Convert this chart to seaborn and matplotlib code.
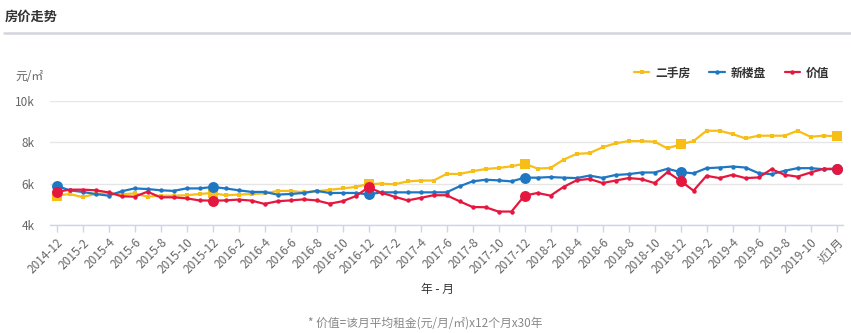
import matplotlib
matplotlib.use("Agg")
import matplotlib.pyplot as plt
import seaborn as sns
import pandas as pd
import numpy as np

# ---------------- data ----------------
months = [f"{y}-{m}" for y, m in [(2014, 12)] + [(y, m) for y in range(2015, 2020) for m in range(1, 13)]][:60] + ["近1月"]
tick_labels = ["2014-12", "2015-2", "2015-4", "2015-6", "2015-8", "2015-10", "2015-12",
               "2016-2", "2016-4", "2016-6", "2016-8", "2016-10", "2016-12",
               "2017-2", "2017-4", "2017-6", "2017-8", "2017-10", "2017-12",
               "2018-2", "2018-4", "2018-6", "2018-8", "2018-10", "2018-12",
               "2019-2", "2019-4", "2019-6", "2019-8", "2019-10", "近1月"]

ershoufang = [5420, 5500, 5350, 5500, 5550, 5480, 5530, 5370, 5420, 5420,
              5440, 5500, 5550, 5440, 5470, 5500, 5530, 5650, 5650, 5580,
              5630, 5700, 5770, 5840, 5980, 6000, 5970, 6110, 6150, 6150,
              6470, 6470, 6600, 6710, 6760, 6840, 6970, 6730, 6760, 7160,
              7440, 7480, 7760, 7950, 8060, 8060, 8030, 7710, 7900, 8060,
              8560, 8560, 8400, 8190, 8320, 8320, 8320, 8560, 8270, 8320, 8300]
xinloupan = [5900, 5680, 5600, 5500, 5420, 5630, 5770, 5740, 5680, 5650,
             5770, 5770, 5840, 5770, 5680, 5600, 5600, 5470, 5500, 5550,
             5650, 5550, 5550, 5550, 5480, 5580, 5580, 5580, 5580, 5580,
             5580, 5870, 6110, 6190, 6160, 6110, 6290, 6290, 6320, 6290,
             6270, 6390, 6280, 6420, 6460, 6540, 6540, 6720, 6560, 6500,
             6750, 6780, 6830, 6780, 6510, 6460, 6620, 6750, 6750, 6700, 6700]
jiazhi = [5600, 5710, 5710, 5680, 5580, 5390, 5370, 5610, 5340, 5340,
          5290, 5190, 5180, 5190, 5230, 5180, 5020, 5150, 5190, 5240,
          5190, 5030, 5150, 5390, 5820, 5560, 5370, 5190, 5310, 5440,
          5440, 5150, 4870, 4860, 4650, 4650, 5420, 5550, 5420, 5840,
          6160, 6230, 6030, 6150, 6270, 6220, 6030, 6560, 6140, 5660,
          6380, 6270, 6430, 6270, 6300, 6700, 6430, 6340, 6540, 6720, 6720]
series_names = ["二手房", "新楼盘", "价值"]
highlight_idx = [0, 12, 24, 36, 48, 60]

colors = {"二手房": "#F7BE16", "新楼盘": "#1F77C3", "价值": "#E5173F"}
markers = {"二手房": "s", "新楼盘": "o", "价值": "o"}

idx = list(range(len(months)))
df = pd.concat([
    pd.DataFrame({"i": idx, "month": months, "value": vals, "series": name})
    for name, vals in zip(series_names, [ershoufang, xinloupan, jiazhi])
], ignore_index=True)

# ---------------- style ----------------
sns.set_theme(style="white")
plt.rcParams["font.family"] = ["Noto Sans CJK SC", "DejaVu Sans"]

W, H = 851, 333
fig = plt.figure(figsize=(W / 100, H / 100), dpi=100)
ax = fig.add_axes([50 / W, 1 - 225 / H, 793 / W, 124 / H])

for name in series_names:
    sub = df[df["series"] == name]
    sns.lineplot(data=sub, x="i", y="value", ax=ax, color=colors[name],
                 linewidth=1.6, marker=markers[name], markersize=3.2,
                 markeredgewidth=0, label=name)
    hi = sub[sub["i"].isin(highlight_idx)]
    sns.scatterplot(data=hi, x="i", y="value", ax=ax, color=colors[name],
                    marker=markers[name], s=62, linewidth=0, legend=False,
                    zorder=5)

for ln in ax.lines:
    ln.set_clip_on(False)
for c in ax.collections:
    c.set_clip_on(False)

ax.set_xlim(-0.5, 60.5)
ax.set_ylim(4000, 10000)
ax.set_yticks([4000, 6000, 8000, 10000])
ax.set_yticklabels(["4k", "6k", "8k", "10k"])
ax.set_xticks(list(range(0, 59, 2)) + [60])
ax.set_xticklabels(tick_labels, rotation=45, ha="right", va="top",
                   rotation_mode="anchor")
ax.set_xlabel("")
ax.set_ylabel("")

ax.grid(axis="y", color="#e6e6e6", linewidth=1)
ax.grid(axis="x", visible=False)
for s in ["top", "right", "left"]:
    ax.spines[s].set_visible(False)
ax.spines["bottom"].set_color("#ccd6eb")
ax.spines["bottom"].set_linewidth(1)
ax.tick_params(axis="x", colors="#ccd6eb", labelcolor="#666666", length=5,
               width=1, direction="out", labelsize=8.5, pad=3, bottom=True)
ax.tick_params(axis="y", length=0, labelcolor="#666666", labelsize=8.5, pad=11)

# legend
leg = ax.legend(loc="center right", bbox_to_anchor=(840 / W, 1 - 73 / H),
                bbox_transform=fig.transFigure, ncol=3, frameon=False,
                handlelength=1.3, handletextpad=0.5, columnspacing=1.6,
                prop={"size": 8.5, "weight": "bold"})
for t in leg.get_texts():
    t.set_color("#333333")

# texts
fig.text(5 / W, 1 - 17 / H, "房价走势", fontsize=9.5, fontweight="bold",
         color="#333333", va="center", ha="left")
fig.add_artist(plt.Line2D([4 / W, 1], [1 - 33 / H, 1 - 33 / H],
                          transform=fig.transFigure, color="#d4d4de",
                          linewidth=1.8))
fig.text(15 / W, 1 - 77 / H, "元/㎡", fontsize=8.5, color="#666666",
         va="center", ha="left")
fig.text(437 / W, 1 - 289 / H, "年 - 月", fontsize=8.5, color="#333333",
         va="center", ha="center")
fig.text(425 / W, 1 - 323 / H, "* 价值=该月平均租金(元/月/㎡)x12个月x30年",
         fontsize=8.5, color="#888888", va="center", ha="center")

fig.savefig("out.png", dpi=100, facecolor="white")
